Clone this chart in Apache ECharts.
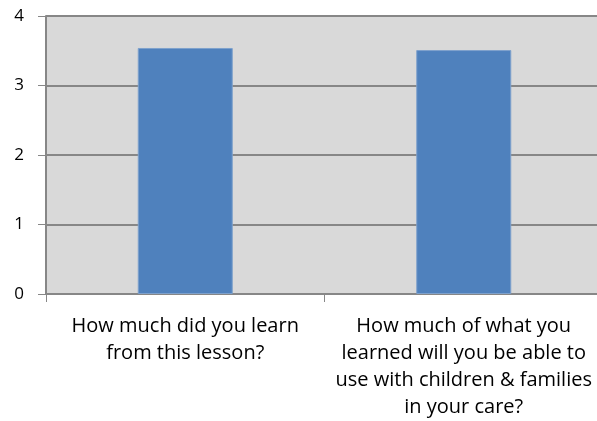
<!DOCTYPE html>
<html>
<head>
<meta charset="utf-8">
<script src="https://cdn.jsdelivr.net/npm/echarts@6/dist/echarts.min.js"></script>
<style>
  html, body { margin: 0; padding: 0; background: #fff; }
  #chart { width: 597px; height: 421px; }
</style>
</head>
<body>
<div id="chart"></div>
<script>
// 数据
const categories = [
    'How much did you learn\nfrom this lesson?',
    'How much of what you\nlearned will you be able to\nuse with children & families\nin your care?'
]
const scores = [3.54, 3.51]
const yTicks = [0, 1, 2, 3, 4]

const myChart = echarts.init(document.getElementById('chart'))

const axisGray = '#878787'

const option = {
    animation: false,
    grid: {
        left: 46,
        top: 16,
        width: 557,
        height: 278,
        outerBoundsMode: 'none',
        containLabel: false,
        backgroundColor: '#d9d9d9',
        show: true,
        borderWidth: 0
    },
    xAxis: {
        type: 'category',
        data: categories,
        axisLine: { lineStyle: { color: axisGray, width: 2 } },
        axisTick: { show: true, length: 8, lineStyle: { color: axisGray, width: 1 } },
        axisLabel: {
            interval: 0,
            margin: 19,
            color: '#000',
            fontFamily: 'Open Sans',
            fontSize: 20,
            lineHeight: 27
        }
    },
    yAxis: {
        type: 'value',
        min: yTicks[0],
        max: yTicks[yTicks.length - 1],
        interval: 1,
        axisLine: { show: true, lineStyle: { color: axisGray, width: 2 } },
        axisTick: { show: true, length: 8, lineStyle: { color: axisGray, width: 1 } },
        splitLine: { lineStyle: { color: axisGray, width: 2 } },
        axisLabel: {
            margin: 22,
            color: '#000',
            fontFamily: 'Open Sans',
            fontSize: 17
        }
    },
    series: [{
        type: 'bar',
        data: scores,
        barWidth: 95,
        itemStyle: {
            color: '#4f81bd',
            borderColor: '#7ea1cc',
            borderWidth: 1
        }
    }]
}

myChart.setOption(option)
</script>
</body>
</html>
